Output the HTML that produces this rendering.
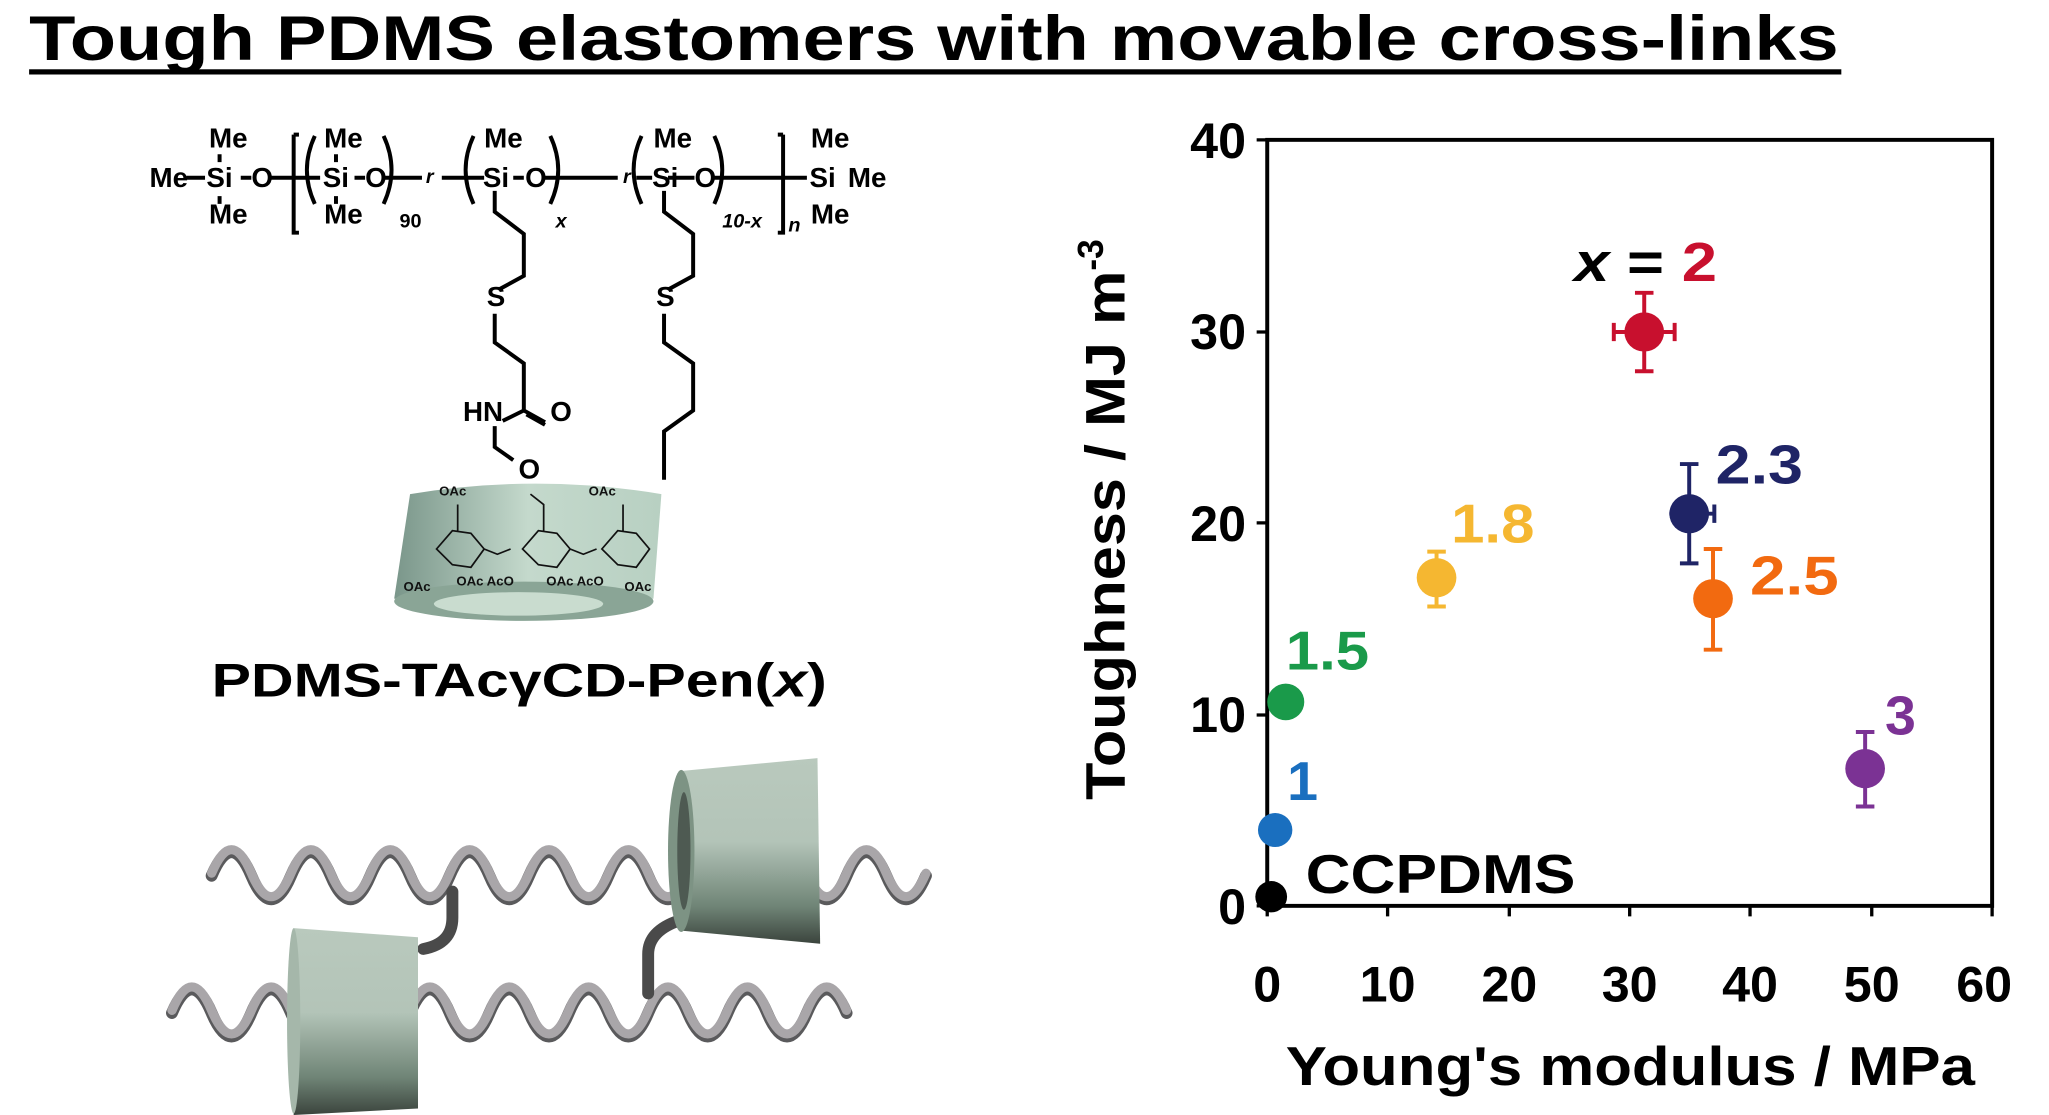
<!DOCTYPE html>
<html><head><meta charset="utf-8"><style>
html,body{margin:0;padding:0;background:#fff}
svg{display:block}
text{font-family:"Liberation Sans",Arial,sans-serif;font-weight:bold}
</style></head><body>
<svg width="2049" height="1115" viewBox="0 0 1549 853" preserveAspectRatio="none" xmlns="http://www.w3.org/2000/svg">
<defs>
<linearGradient id="cd" x1="0" x2="1" y1="0" y2="0">
<stop offset="0" stop-color="#7a968a"/><stop offset="0.5" stop-color="#c4d9cc"/><stop offset="1" stop-color="#b8d0c2"/>
</linearGradient>
<linearGradient id="cy" x1="0" x2="0" y1="0" y2="1">
<stop offset="0" stop-color="#b9c9bd"/><stop offset="0.45" stop-color="#b3c4b8"/><stop offset="0.8" stop-color="#6f8476"/><stop offset="1" stop-color="#3b443d"/>
</linearGradient>
</defs>
<!-- Title -->
<text x="22" y="46" font-size="48" textLength="1368" lengthAdjust="spacingAndGlyphs">Tough PDMS elastomers with movable cross-links</text>
<rect x="22" y="53" width="1370" height="4" fill="#000"/>

<!-- Chemical structure -->
<g font-size="21" fill="#000">
<text x="158" y="113">Me</text><text x="113" y="143">Me</text><text x="158" y="171">Me</text>
<text x="156" y="143">Si</text><text x="190" y="143">O</text>
<text x="245" y="113">Me</text><text x="245" y="171">Me</text><text x="244" y="143">Si</text><text x="276" y="143">O</text>
<text x="366" y="113">Me</text><text x="365" y="143">Si</text><text x="397" y="143">O</text>
<text x="494" y="113">Me</text><text x="493" y="143">Si</text><text x="525" y="143">O</text>
<text x="613" y="113">Me</text><text x="612" y="143">Si</text><text x="641" y="143">Me</text><text x="613" y="171">Me</text>
<text x="368" y="234">S</text><text x="496" y="234">S</text>
<text x="350" y="322">HN</text><text x="416" y="322">O</text><text x="392" y="366">O</text>
</g>
<g font-size="15" fill="#000" font-style="italic">
<text x="302" y="174" font-style="normal">90</text><text x="420" y="174">x</text>
<text x="546" y="174">10-x</text><text x="596" y="177">n</text>
<text x="322" y="140">r</text><text x="471" y="140">r</text>
</g>
<g stroke="#000" stroke-width="3" fill="none">
<path d="M141 136h14M182 136h8M166 118v6M166 150v6M205 136h32M232 136h10M254 118v6M254 150v6M268 136h8M291 136h28M334 136h32M388 136h8M412 136h55M481 136h12M505 136h20M540 136h70"/>
<path d="M222 103v75h4M222 103h4"/>
<path d="M592 103v75h-4M592 103h-4"/>
<path d="M238 104q-12 26 0 52M290 104q12 26 0 52M358 104q-12 26 0 52M416 104q12 26 0 52M485 104q-12 26 0 52M540 104q12 26 0 52"/>
<path d="M374 146v16l22 17v32l-18 10M374 240v22l22 16v36l-16 8M396 314l16 9M398 317l14 8M374 326v16l14 10"/>
<path d="M502 146v16l22 17v32l-18 10M502 240v22l22 16v36l-22 16v37"/>
</g>
<!-- CD cone -->
<path d="M310 378 Q405 362 500 378 L494 458 Q400 472 298 458 Z" fill="url(#cd)"/>
<ellipse cx="396" cy="460" rx="98" ry="15" fill="#8aa596"/>
<ellipse cx="392" cy="462" rx="64" ry="9" fill="#c9dccf"/>
<g stroke="#111" stroke-width="1.3" fill="none">
<path d="M330 420l12-14 14 2 10 12-10 14-14-2zM395 420l12-14 14 2 10 12-10 14-14-2zM455 420l12-14 14 2 10 12-10 14-14-2zM366 420l10 4 10-4M431 420l10 4 10-4M346 406v-20M411 406v-20l-10-8M471 406v-20"/>
</g>
<g font-size="10" fill="#111">
<text x="332" y="379">OAc</text><text x="445" y="379">OAc</text><text x="345" y="448">OAc AcO</text><text x="413" y="448">OAc AcO</text><text x="305" y="452">OAc</text><text x="472" y="452">OAc</text>
</g>
<text x="160" y="533" font-size="36" textLength="465" lengthAdjust="spacingAndGlyphs">PDMS-TAcγCD-Pen(<tspan font-style="italic">x</tspan>)</text>

<!-- bottom illustration -->
<g fill="none" stroke-linecap="round">
<path d="M160 670 q15 -36 30 0 t30 0 t30 0 t30 0 t30 0 t30 0 t30 0 t30 0 t30 0 t30 0 t30 0 t30 0 t30 0 t30 0 t30 0 t30 0 t30 0 t30 0" stroke="#5a5a5c" stroke-width="9"/>
<path d="M160 668 q15 -36 30 0 t30 0 t30 0 t30 0 t30 0 t30 0 t30 0 t30 0 t30 0 t30 0 t30 0 t30 0 t30 0 t30 0 t30 0 t30 0 t30 0 t30 0" stroke="#a9a6a9" stroke-width="7"/>
<path d="M130 775 q15 -36 30 0 t30 0 t30 0 t30 0 t30 0 t30 0 t30 0 t30 0 t30 0 t30 0 t30 0 t30 0 t30 0 t30 0 t30 0 t30 0 t30 0" stroke="#5a5a5c" stroke-width="9"/>
<path d="M130 773 q15 -36 30 0 t30 0 t30 0 t30 0 t30 0 t30 0 t30 0 t30 0 t30 0 t30 0 t30 0 t30 0 t30 0 t30 0 t30 0 t30 0 t30 0" stroke="#a9a6a9" stroke-width="7"/>
</g>
<g stroke="#4a4a4a" stroke-width="9" fill="none" stroke-linecap="round">
<path d="M342 682v20q0 20-22 24"/>
<path d="M490 760v-30q0-18 24-26"/>
</g>
<path d="M222 710 L316 717 L316 848 L222 853 Z" fill="url(#cy)"/>
<ellipse cx="222" cy="781" rx="5" ry="71" fill="#a5b7aa"/>
<path d="M513 590 L618 580 L620 722 L516 712 Z" fill="url(#cy)"/>
<ellipse cx="515" cy="651" rx="10" ry="62" fill="#7d9384"/>
<ellipse cx="517" cy="651" rx="5" ry="45" fill="#4e5a52"/>

<!-- plot -->
<rect x="958" y="107" width="548" height="586" fill="none" stroke="#000" stroke-width="3"/>
<g stroke="#000" stroke-width="2.5">
<path d="M958 107h-8M958 254h-8M958 400h-8M958 547h-8M958 693h-8"/>
<path d="M958 693v8M1049 693v8M1141 693v8M1232 693v8M1323 693v8M1415 693v8M1506 693v8"/>
</g>
<g font-size="38" text-anchor="end">
<text x="942" y="121">40</text><text x="942" y="267">30</text><text x="942" y="414">20</text><text x="942" y="560">10</text><text x="942" y="707">0</text>
</g>
<g font-size="38" text-anchor="middle">
<text x="958" y="766">0</text><text x="1049" y="766">10</text><text x="1141" y="766">20</text><text x="1232" y="766">30</text><text x="1323" y="766">40</text><text x="1415" y="766">50</text><text x="1500" y="766">60</text>
</g>
<text x="972" y="830" font-size="42" textLength="521" lengthAdjust="spacingAndGlyphs">Young's modulus / MPa</text>
<text transform="translate(850 612) rotate(-90)" font-size="42"><tspan textLength="405" lengthAdjust="spacingAndGlyphs">Toughness / MJ m</tspan><tspan font-size="27" dy="-16">-3</tspan></text>

<!-- error bars -->
<g stroke-width="3" fill="none">
<path stroke="#c8102e" d="M1243 224v60M1236 224h14M1236 284h14M1220 254h46M1220 247v14M1266 247v14"/>
<path stroke="#1f2466" d="M1277 355v76M1270 355h14M1270 431h14M1262 393h34M1296 386v14"/>
<path stroke="#f26a10" d="M1295 420v77M1288 420h14M1288 497h14"/>
<path stroke="#f5b731" d="M1086 422v42M1079 422h14M1079 464h14"/>
<path stroke="#7b3294" d="M1410 560v57M1403 560h14M1403 617h14"/>
</g>
<circle cx="961" cy="686" r="12" fill="#000"/>
<circle cx="964" cy="635" r="13" fill="#1a6fbf"/>
<circle cx="972" cy="537" r="14" fill="#1a9a4a"/>
<circle cx="1086" cy="442" r="15" fill="#f5b731"/>
<circle cx="1243" cy="254" r="15" fill="#c8102e"/>
<circle cx="1277" cy="393" r="15" fill="#1f2466"/>
<circle cx="1295" cy="458" r="15" fill="#f26a10"/>
<circle cx="1410" cy="588" r="15" fill="#7b3294"/>
<g font-size="42">
<text x="987" y="683" textLength="204" lengthAdjust="spacingAndGlyphs">CCPDMS</text>
<text x="973" y="612" fill="#1a6fbf">1</text>
<text x="972" y="512" fill="#1a9a4a" textLength="63" lengthAdjust="spacingAndGlyphs">1.5</text>
<text x="1097" y="415" fill="#f5b731" textLength="63" lengthAdjust="spacingAndGlyphs">1.8</text>
<text x="1190" y="215" textLength="108" lengthAdjust="spacingAndGlyphs"><tspan font-style="italic">x</tspan> = <tspan fill="#c8102e">2</tspan></text>
<text x="1297" y="370" fill="#1f2466" textLength="66" lengthAdjust="spacingAndGlyphs">2.3</text>
<text x="1323" y="455" fill="#f26a10" textLength="67" lengthAdjust="spacingAndGlyphs">2.5</text>
<text x="1425" y="562" fill="#7b3294">3</text>
</g>
</svg>
</body></html>
